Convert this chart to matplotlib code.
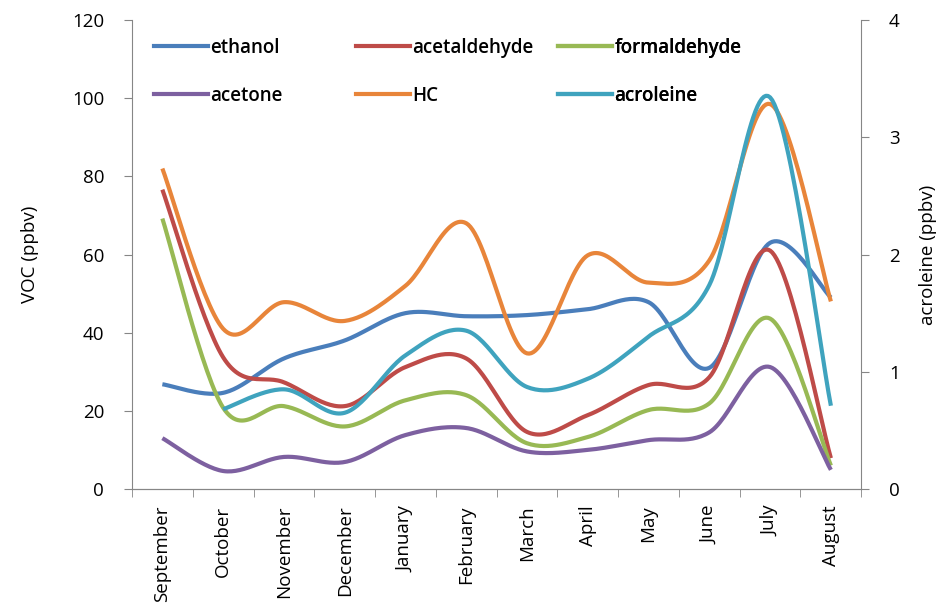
import numpy as np
import matplotlib
matplotlib.use("Agg")
import matplotlib.pyplot as plt
from matplotlib.lines import Line2D

months = ["September", "October", "November", "December", "January", "February",
          "March", "April", "May", "June", "July", "August"]
ethanol = [26.8, 24.6, 33.4, 38.0, 45.0, 44.2, 44.5, 46.0, 47.8, 31.0, 63.0, 49.0]
acetaldehyde = [76.6, 33.7, 27.3, 21.2, 31.2, 33.4, 14.6, 18.9, 26.6, 28.6, 61.0, 7.9]
formaldehyde = [69.2, 20.8, 21.2, 16.0, 22.7, 24.0, 11.7, 13.3, 20.2, 21.9, 43.6, 6.0]
acetone = [13.0, 4.6, 8.2, 6.9, 13.8, 15.6, 9.6, 10.0, 12.5, 14.5, 31.2, 4.9]
hc = [82.0, 41.0, 47.8, 43.0, 52.0, 68.0, 34.7, 59.8, 52.8, 58.5, 98.5, 48.0]
# acroleine starts in October, right axis
acroleine = [None, 0.68, 0.85, 0.65, 1.14, 1.35, 0.87, 0.94, 1.30, 1.74, 3.34, 0.71]

colors = {"ethanol": "#4A7EBB", "acetaldehyde": "#BE4B48", "formaldehyde": "#98B954",
          "acetone": "#7D60A0", "HC": "#E8853A", "acroleine": "#3FA3BE"}


def smooth(xs, ys, n=30):
    # excel-like smoothed line (catmull-rom bezier)
    xs = np.asarray(xs, float)
    ys = np.asarray(ys, float)
    px, py = [], []
    for i in range(len(xs) - 1):
        p0 = (xs[max(i - 1, 0)], ys[max(i - 1, 0)])
        p1 = (xs[i], ys[i])
        p2 = (xs[i + 1], ys[i + 1])
        p3 = (xs[min(i + 2, len(xs) - 1)], ys[min(i + 2, len(xs) - 1)])
        c1 = (p1[0] + (p2[0] - p0[0]) / 6, p1[1] + (p2[1] - p0[1]) / 6)
        c2 = (p2[0] - (p3[0] - p1[0]) / 6, p2[1] - (p3[1] - p1[1]) / 6)
        t = np.linspace(0, 1, n)
        bx = (1-t)**3*p1[0] + 3*(1-t)**2*t*c1[0] + 3*(1-t)*t**2*c2[0] + t**3*p2[0]
        by = (1-t)**3*p1[1] + 3*(1-t)**2*t*c1[1] + 3*(1-t)*t**2*c2[1] + t**3*p2[1]
        px.extend(bx)
        py.extend(by)
    return px, py


plt.rcParams['font.family'] = ['Open Sans', 'DejaVu Sans']
fig = plt.figure(figsize=(9.38, 6.16), dpi=100)
ax = fig.add_axes([0.1407, 0.2062, 0.7775, 0.7613])
ax2 = ax.twinx()

x = np.arange(len(months))
lw = 3.0
series = [("ethanol", ethanol), ("acetaldehyde", acetaldehyde), ("formaldehyde", formaldehyde),
          ("acetone", acetone), ("HC", hc)]
for name, vals in series:
    sx, sy = smooth(x, vals)
    ax.plot(sx, sy, color=colors[name], lw=lw, solid_capstyle='butt')

ax_x = [i for i, v in enumerate(acroleine) if v is not None]
ax_y = [v for v in acroleine if v is not None]
sx, sy = smooth(ax_x, ax_y)
ax2.plot(sx, sy, color=colors["acroleine"], lw=lw, solid_capstyle='butt')

gray = "#868686"
for a in (ax, ax2):
    a.set_xlim(-0.5, 11.5)
    for s in a.spines.values():
        s.set_color(gray)
    a.spines['top'].set_visible(False)
ax.spines['right'].set_visible(False)
ax2.spines['left'].set_visible(False)

ax.set_ylim(0, 120)
ax.set_yticks(range(0, 121, 20))
ax2.set_ylim(0, 4)
ax2.set_yticks(range(0, 5))
ax.set_xticks(x)
ax.set_xticklabels(months, rotation=90, fontsize=13.5)
ax.set_xticks(np.arange(-0.5, 12, 1), minor=True)
ax.tick_params(axis='x', which='major', length=0, pad=12)
ax.tick_params(axis='x', which='minor', length=6, color=gray, direction='out')
ax.tick_params(axis='y', length=6, color=gray, labelsize=13.5, pad=14)
ax2.tick_params(axis='y', length=6, color=gray, labelsize=13.5, pad=14)
ax.set_ylabel("VOC (ppbv)", fontsize=13.5, labelpad=24)
ax2.set_ylabel("acroleine (ppbv)", fontsize=13.5, labelpad=14)

# legend: three columns of equal width, like the spreadsheet one
order = [["ethanol", "acetone"], ["acetaldehyde", "HC"], ["formaldehyde", "acroleine"]]
col_x = [0.03, 0.307, 0.584]
for cx, names in zip(col_x, order):
    handles = [Line2D([], [], color=colors[n], lw=lw) for n in names]
    leg = ax2.legend(handles, names, loc='upper left', bbox_to_anchor=(cx, 0.962),
                     frameon=False, handlelength=2.9, handletextpad=0.1,
                     labelspacing=1.5, prop={'weight': 'semibold', 'size': 13.5},
                     borderaxespad=0, borderpad=0)
    ax2.add_artist(leg)

fig.savefig("out.png", dpi=100)
